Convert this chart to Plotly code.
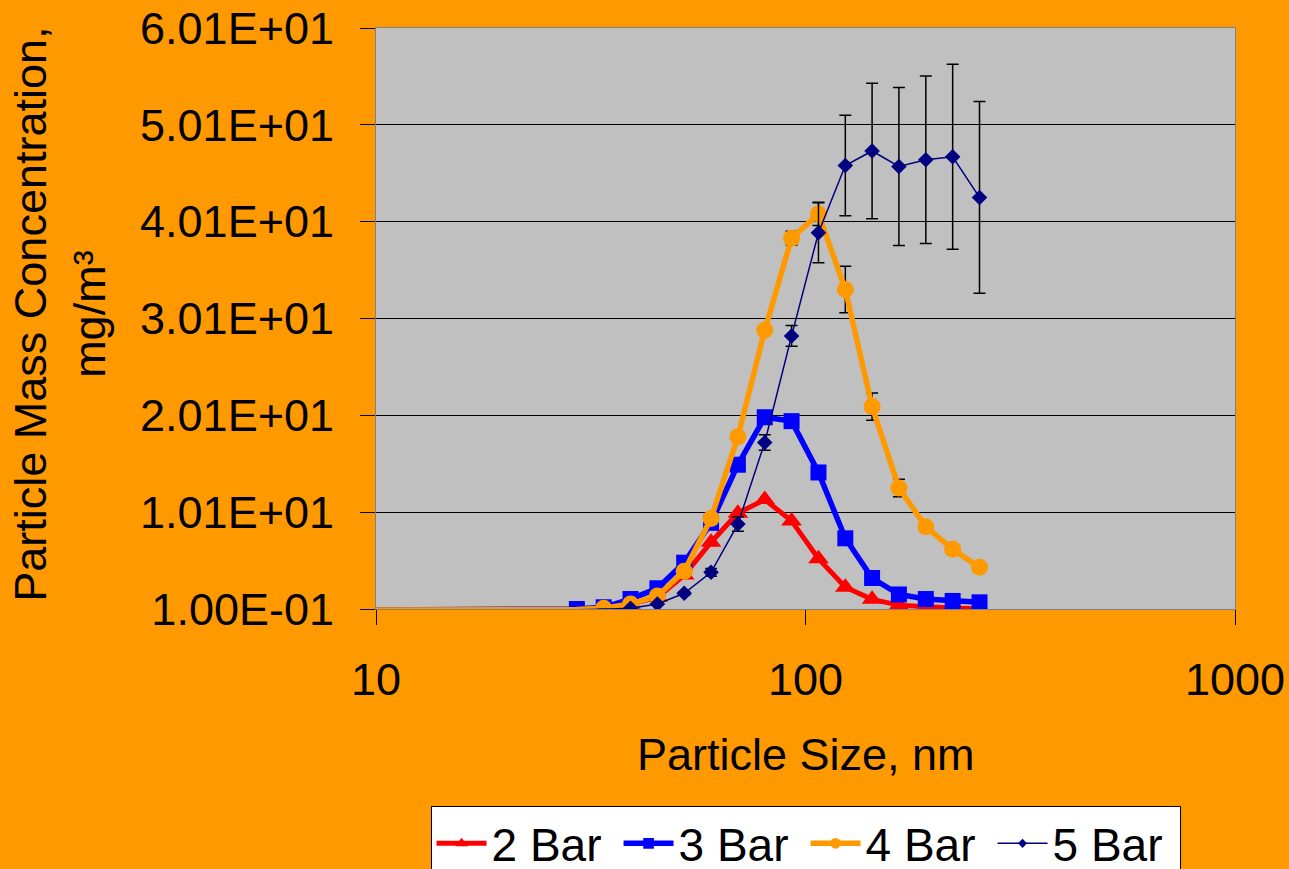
import plotly.graph_objects as go

# Particle size (nm)
sizes = [9.283, 10.72, 12.38, 14.29, 16.51, 19.06, 22.01, 25.42, 29.35, 33.89,
         39.14, 45.20, 52.19, 60.27, 69.60, 80.37, 92.81, 107.2, 123.8, 142.9,
         165.0, 190.6, 220.1, 254.2]

bar2 = [0, 0, 0, 0, 0, 0, 0, 0, 0.05, 0.2, 0.6, 1.3, 3.6, 7.0, 10.0, 11.4,
        9.2, 5.3, 2.35, 1.1, 0.5, 0.34, 0.23, 0.1]
bar3 = [0, 0, 0, 0, 0, 0, 0, 0, 0.1, 0.28, 1.13, 2.24, 4.88, 9.0, 15.0, 19.9,
        19.5, 14.2, 7.4, 3.3, 1.6, 1.13, 0.93, 0.79]
bar4 = [0, 0, 0, 0, 0, 0, 0, 0, 0.05, 0.17, 0.62, 1.44, 4.0, 9.45, 17.9, 28.9,
        38.4, 40.9, 33.1, 21.0, 12.6, 8.6, 6.27, 4.4]
bar5 = [0, 0, 0, 0, 0, 0, 0, 0, 0.02, 0.08, 0.17, 0.62, 1.72, 3.89, 8.87, 17.3,
        28.3, 38.96, 45.9, 47.4, 45.8, 46.5, 46.8, 42.6]

bar4_err = [None, None, None, None, None, None, None, None, None, None, None,
            None, None, None, 0.3, 0.3, 0.7, 1.2, 2.4, 1.4, 0.9, 0.3, 0.3, 0.3]
bar5_err = [0, 0, 0, 0, 0, 0, 0, 0, 0, 0, 0, 0, 0.2, 0.4, 0.75, 0.8, 1.07,
            3.1, 5.2, 7.0, 8.15, 8.65, 9.55, 9.9]

series_names = ["2 Bar", "3 Bar", "4 Bar", "5 Bar"]

ytick_vals = [0.1, 10.1, 20.1, 30.1, 40.1, 50.1, 60.1]
ytick_text = ["1.00E-01", "1.01E+01", "2.01E+01", "3.01E+01",
              "4.01E+01", "5.01E+01", "6.01E+01"]
xtick_vals = [10, 100, 1000]
xtick_text = ["10", "100", "1000"]

FONT = "Liberation Sans, Arial, sans-serif"
YMIN = 0.1


def sizes_for(vals, s):
    return [s if v >= YMIN else 0 for v in vals]


fig = go.Figure()

fig.add_trace(go.Scatter(
    x=sizes, y=bar2, name=series_names[0], mode="lines+markers",
    line=dict(color="#FF0000", width=5),
    marker=dict(symbol="triangle-up", color="#FF0000", size=sizes_for(bar2, 18),
                opacity=1, line=dict(width=0)),
))
fig.add_trace(go.Scatter(
    x=sizes, y=bar3, name=series_names[1], mode="lines+markers",
    line=dict(color="#0000FF", width=5.5),
    marker=dict(symbol="square", color="#0000FF", size=sizes_for(bar3, 16),
                opacity=1, line=dict(width=0)),
))
fig.add_trace(go.Scatter(
    x=sizes, y=bar4, name=series_names[2], mode="lines+markers",
    line=dict(color="#FF9900", width=5.5),
    marker=dict(symbol="circle", color="#FF9900", size=sizes_for(bar4, 17),
                opacity=1, line=dict(width=0)),
    error_y=dict(type="data", array=bar4_err, color="black", thickness=1.5, width=6),
))
fig.add_trace(go.Scatter(
    x=sizes, y=bar5, name=series_names[3], mode="lines+markers",
    line=dict(color="#000080", width=1.5),
    marker=dict(symbol="diamond", color="#000080", size=sizes_for(bar5, 12),
                opacity=1, line=dict(width=0)),
    error_y=dict(type="data", array=bar5_err, color="black", thickness=1.5, width=6),
))

fig.update_layout(
    width=1289, height=869, autosize=False,
    margin=dict(l=376, r=54, t=28, b=260, autoexpand=False),
    paper_bgcolor="#FF9900", plot_bgcolor="#C0C0C0",
    font=dict(family=FONT, size=45, color="black"),
    showlegend=True,
    legend=dict(
        orientation="h", x=0.0635, xanchor="left", y=-0.339, yanchor="top",
        bgcolor="white", bordercolor="black", borderwidth=1,
        font=dict(family=FONT, size=46, color="black"),
        itemwidth=50, tracegroupgap=0,
        entrywidth=122, entrywidthmode="pixels",
    ),
    xaxis=dict(
        type="log", range=[1, 3],
        tickvals=xtick_vals, ticktext=xtick_text,
        ticks="outside", ticklen=15, tickcolor="black", tickwidth=1,
        showgrid=False, zeroline=False,
        showline=True, linecolor="#808080", linewidth=1, mirror=True,
        tickfont=dict(family=FONT, size=45, color="black"),
        ticklabelstandoff=16,
    ),
    yaxis=dict(
        range=[0.1, 60.1],
        tickvals=ytick_vals, ticktext=ytick_text,
        ticks="outside", ticklen=15, tickcolor="black", tickwidth=1,
        showgrid=True, gridcolor="black", gridwidth=1, zeroline=False,
        showline=True, linecolor="#808080", linewidth=1, mirror=True,
        tickfont=dict(family=FONT, size=45, color="black"),
        ticklabelstandoff=17,
    ),
    annotations=[
        dict(text="Particle Mass Concentration,<br>mg/m³", textangle=-90,
             xref="paper", yref="paper", x=-0.368, y=0.508,
             xanchor="center", yanchor="middle", showarrow=False,
             font=dict(family=FONT, size=45, color="black")),
        dict(text="Particle Size, nm",
             xref="paper", yref="paper", x=0.5, y=-0.25,
             xanchor="center", yanchor="middle", showarrow=False,
             font=dict(family=FONT, size=45, color="black")),
    ],
)

fig.write_html("out.html", config={"displayModeBar": False},
               post_script="document.body.style.margin='0';document.body.style.overflow='hidden';")
